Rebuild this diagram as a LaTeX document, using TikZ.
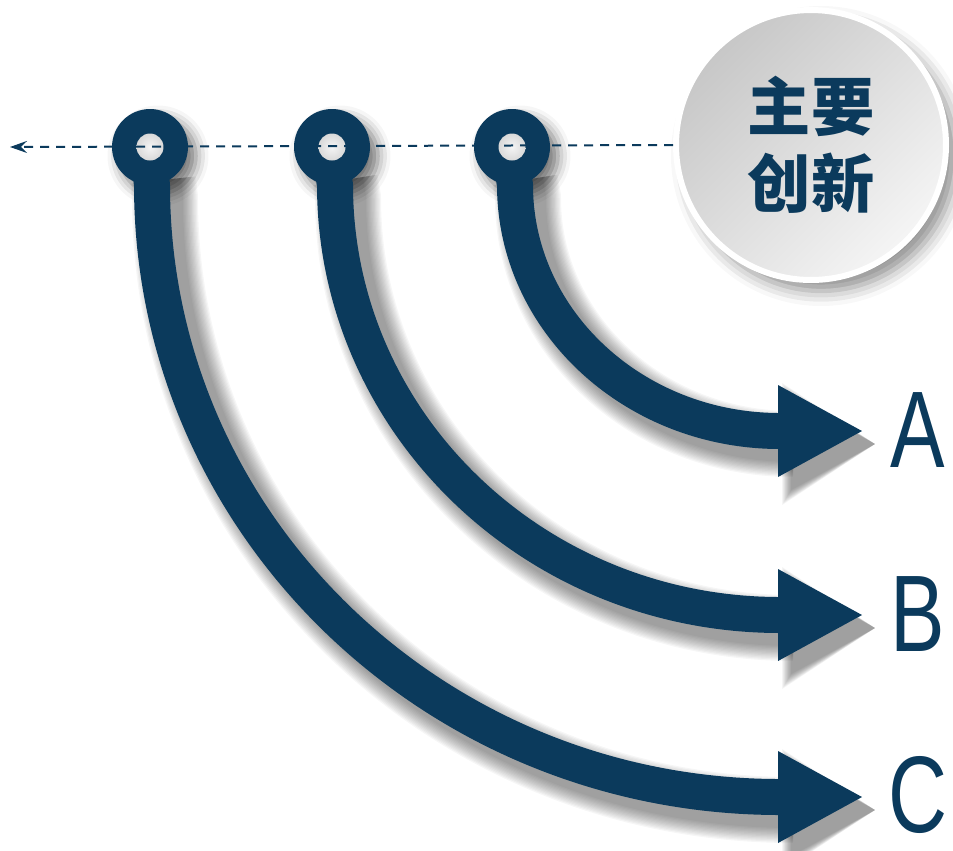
\documentclass[tikz,border=0pt]{standalone}
\usepackage{fontspec}
\setmainfont{Liberation Sans}
\newfontfamily\cjkfont{Noto Sans CJK SC}
\usetikzlibrary{arrows.meta}
\usetikzlibrary{shadows.blur}
\usetikzlibrary{positioning}
\definecolor{deepblue}{HTML}{0B3A5C}
\tikzset{
    flow/.style = {draw=deepblue, line width=0.72cm, -{Triangle[length=1.68cm, width=1.84cm, line width=0pt]}},
    flowshadow/.style = {draw=black, opacity=0.035, line width=#1, -{Triangle[length=1.46cm 0.3, width=1.12cm 1, line width=0pt]}, transform canvas={xshift=0.26cm, yshift=-0.26cm}},
    ring/.style = {circle, fill=deepblue, minimum size=1.52cm, inner sep=0pt,
      path picture={\shade[inner color=black!4, outer color=black!35] (path picture bounding box.center) circle (0.27cm);},
      blur shadow={shadow xshift=0.16cm, shadow yshift=-0.18cm, shadow blur radius=0.25cm, shadow opacity=55}},
    badge/.style = {circle, draw=white, line width=0.12cm, minimum size=5.4cm, inner sep=0pt, top color=black!22, bottom color=black!4, shading angle=45,
      align=center, text=deepblue, font=\cjkfont\bfseries\fontsize{36}{44}\selectfont,
      blur shadow={shadow xshift=0.2cm, shadow yshift=-0.22cm, shadow blur radius=0.3cm, shadow opacity=45}},
    guide/.style = {draw=deepblue, line width=0.04cm, dash pattern=on 0.18cm off 0.14cm, -{Stealth[length=0.34cm, width=0.24cm, inset=0.12cm]}},
    letter/.style = {text=deepblue, font=\fontsize{62}{62}\selectfont, inner sep=0pt}
}

\begin{document}
\begin{tikzpicture}[x=0.02cm, y=-0.02cm]
  \useasboundingbox (0,0) rectangle (953,850);
  % ring centres and arrow tips
  \coordinate (pa) at (512,147);
  \coordinate (pb) at (332,147);
  \coordinate (pc) at (150,147);
  \coordinate (ea) at (862,431);
  \coordinate (eb) at (862,615);
  \coordinate (ec) at (862,797);
  \coordinate (tip) at (10,147);

  % soft shadows under the curves
  \foreach \w in {1.32cm,1.27cm,1.22cm,1.17cm,1.12cm,1.07cm,1.02cm,0.97cm,0.92cm,0.87cm,0.82cm,0.77cm,0.72cm}{
    \draw[flowshadow=\w] ([yshift=-0.4cm]pa) -- ++(3,18) .. controls +(0,136) and +(-146,0) .. (780,431) -- (ea);
    \draw[flowshadow=\w] ([yshift=-0.4cm]pb) -- ++(3,18) .. controls +(0,237) and +(-246,0) .. (780,615) -- (eb);
    \draw[flowshadow=\w] ([yshift=-0.4cm]pc) -- ++(2,18) .. controls +(0,338) and +(-347,0) .. (780,797) -- (ec);
  }

  \node[ring] (ra) at (pa) {};
  \node[ring] (rb) at (pb) {};
  \node[ring] (rc) at (pc) {};

  \draw[flow] ([yshift=-0.4cm]ra.center) -- ++(3,18) .. controls +(0,136) and +(-146,0) .. (780,431) -- (ea);
  \draw[flow] ([yshift=-0.4cm]rb.center) -- ++(3,18) .. controls +(0,237) and +(-246,0) .. (780,615) -- (eb);
  \draw[flow] ([yshift=-0.4cm]rc.center) -- ++(2,18) .. controls +(0,338) and +(-347,0) .. (780,797) -- (ec);

  \node[badge] (main) at (811,145) {主要\\创新};
  \draw[guide] (main.west) -- (tip);

  \node[letter] (la) at (918,430) {\scalebox{0.75}[1]{A}};
  \node[letter] (lb) at (918,614) {\scalebox{0.75}[1]{B}};
  \node[letter] (lc) at (918,795) {\scalebox{0.75}[1]{C}};
\end{tikzpicture}
\end{document}
